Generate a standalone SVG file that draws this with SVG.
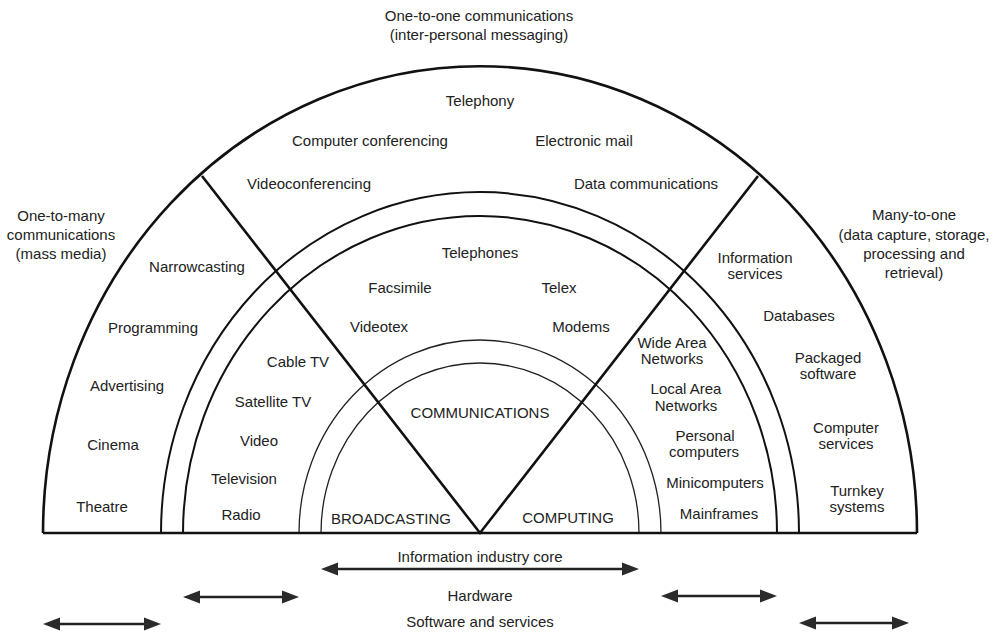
<svg xmlns="http://www.w3.org/2000/svg" width="1003" height="634" viewBox="0 0 1003 634">
<style>
  text { font-family: "Liberation Sans", Arial, sans-serif; font-size: 15px; fill: #222; text-anchor: middle; }
  .heavy { fill: none; stroke: #111; stroke-width: 2.6; }
  .mid { fill: none; stroke: #111; stroke-width: 2; }
  .thin { fill: none; stroke: #222; stroke-width: 1.3; }
  .arrow { fill: none; stroke: #222; stroke-width: 2.6; marker-start: url(#ah); marker-end: url(#ah); }
</style>
<defs>
  <marker id="ah" markerUnits="userSpaceOnUse" markerWidth="18" markerHeight="15" refX="9" refY="7" orient="auto-start-reverse" viewBox="0 0 18 14">
    <path d="M0,0.5 L17,7 L0,13.5 z" fill="#2a2a2a"/>
  </marker>
</defs>
<rect width="1003" height="634" fill="#fff"/>

<g id="frame">
  <path class="heavy" d="M43,533 A437,467 0 0 1 917,533"/>
  <path class="mid" d="M161,533 A319,341 0 0 1 799,533"/>
  <path class="mid" d="M183,533 A297,317 0 0 1 777,533"/>
  <path class="thin" d="M299,533 A181,193 0 0 1 661,533"/>
  <path class="thin" d="M321,533 A159,170 0 0 1 639,533"/>
  <path class="heavy" d="M43,533 H917"/>
  <path class="heavy" d="M202,176 L480,533 L758,176"/>
</g>

<g id="one-to-one">
  <text x="479" y="21">One-to-one communications</text>
  <text x="479" y="40">(inter-personal messaging)</text>
  <text x="480" y="106">Telephony</text>
  <text x="370" y="146">Computer conferencing</text>
  <text x="584" y="146">Electronic mail</text>
  <text x="309" y="189">Videoconferencing</text>
  <text x="646" y="189">Data communications</text>
</g>

<g id="one-to-many">
  <text x="61" y="221">One-to-many</text>
  <text x="61" y="240">communications</text>
  <text x="61" y="259">(mass media)</text>
  <text x="197" y="272">Narrowcasting</text>
  <text x="153" y="333">Programming</text>
  <text x="127" y="391">Advertising</text>
  <text x="113" y="450">Cinema</text>
  <text x="102" y="512">Theatre</text>
</g>

<g id="many-to-one">
  <text x="914" y="220">Many-to-one</text>
  <text x="914" y="240">(data capture, storage,</text>
  <text x="914" y="259">processing and</text>
  <text x="914" y="278">retrieval)</text>
  <text x="755" y="263">Information</text>
  <text x="755" y="279">services</text>
  <text x="799" y="321">Databases</text>
  <text x="828" y="363">Packaged</text>
  <text x="828" y="379">software</text>
  <text x="846" y="433">Computer</text>
  <text x="846" y="449">services</text>
  <text x="857" y="496">Turnkey</text>
  <text x="857" y="512">systems</text>
</g>

<g id="communications-hardware">
  <text x="480" y="258">Telephones</text>
  <text x="400" y="293">Facsimile</text>
  <text x="559" y="293">Telex</text>
  <text x="379" y="332">Videotex</text>
  <text x="581" y="332">Modems</text>
</g>

<g id="broadcasting-hardware">
  <text x="298" y="367">Cable TV</text>
  <text x="273" y="407">Satellite TV</text>
  <text x="259" y="446">Video</text>
  <text x="244" y="484">Television</text>
  <text x="241" y="520">Radio</text>
</g>

<g id="computing-hardware">
  <text x="672" y="348">Wide Area</text>
  <text x="672" y="364">Networks</text>
  <text x="686" y="394">Local Area</text>
  <text x="686" y="411">Networks</text>
  <text x="705" y="441">Personal</text>
  <text x="704" y="457">computers</text>
  <text x="715" y="488">Minicomputers</text>
  <text x="719" y="519">Mainframes</text>
</g>

<g id="core">
  <text x="480" y="418">COMMUNICATIONS</text>
  <text x="391" y="524">BROADCASTING</text>
  <text x="568" y="523">COMPUTING</text>
</g>

<g id="legend-labels">
  <text x="480" y="562">Information industry core</text>
  <text x="480" y="601">Hardware</text>
  <text x="480" y="627">Software and services</text>
</g>

<g id="connectors">
  <path class="arrow" d="M329,569 H631"/>
  <path class="arrow" d="M191,597 H291"/>
  <path class="arrow" d="M669,596 H769"/>
  <path class="arrow" d="M51,624 H153"/>
  <path class="arrow" d="M807,623 H901"/>
</g>
</svg>
